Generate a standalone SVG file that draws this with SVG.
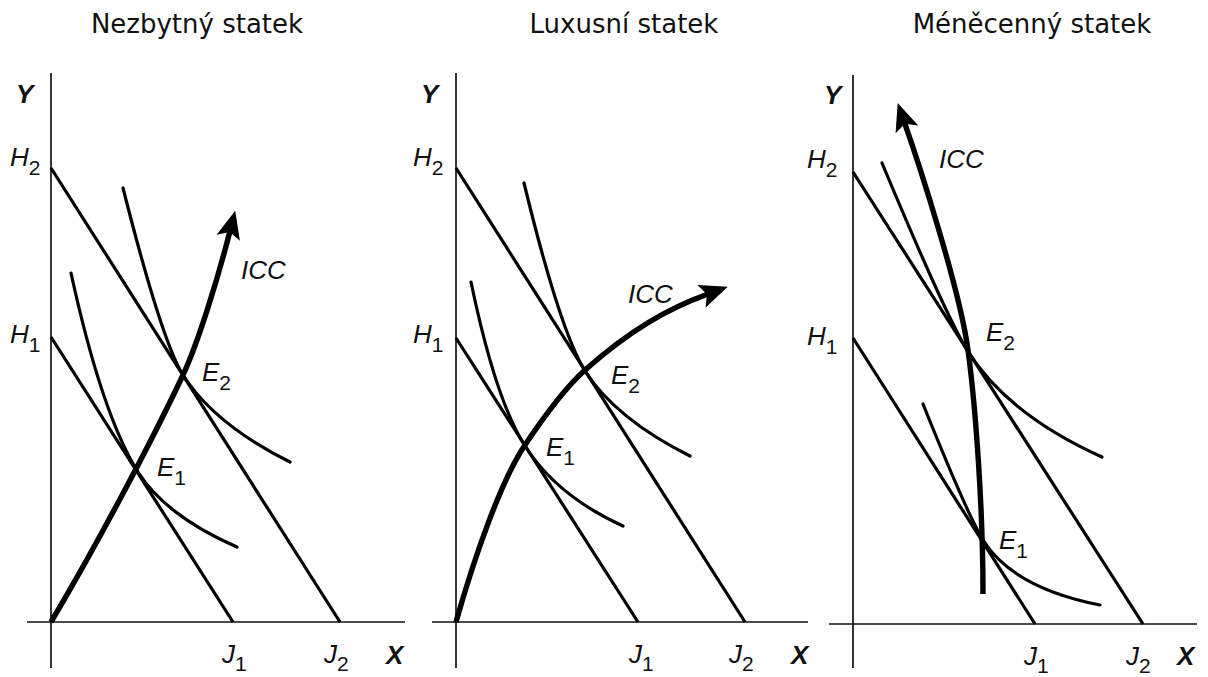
<svg xmlns="http://www.w3.org/2000/svg" width="1208" height="677" viewBox="0 0 1208 677">
<style>
.title{font-family:"DejaVu Sans",Verdana,sans-serif;font-size:26px;fill:#111;text-anchor:middle}
.lab{font-family:"Liberation Sans",Arial,sans-serif;font-size:26px;font-style:italic;fill:#111}
.ax{font-family:"Liberation Sans",Arial,sans-serif;font-size:26px;font-style:italic;font-weight:bold;fill:#111}
.sub{font-size:21px;font-style:normal}
.axis{stroke:#111;stroke-width:1.7;fill:none}
.bl{stroke:#000;stroke-width:3.2;fill:none}
.ic{stroke:#000;stroke-width:3.2;fill:none;stroke-linecap:round}
.icc{stroke:#000;stroke-width:5.4;fill:none;marker-end:url(#ah)}
</style>
<defs>
<marker id="ah" markerUnits="userSpaceOnUse" viewBox="-12 -16 40 32" markerWidth="40" markerHeight="32" refX="0" refY="0" orient="auto" overflow="visible">
<path d="M21,0 L-7,-12 L-1,0 L-7,12 Z" fill="#000"/>
</marker>
</defs>
<rect width="1208" height="677" fill="#fff"/>

<g id="titles">
<text class="title" x="197" y="33">Nezbytný statek</text>
<text class="title" x="624" y="33">Luxusní statek</text>
<text class="title" x="1032" y="33">Méněcenný statek</text>
</g>

<g id="panel-nezbytny">
<g id="axes1">
<line class="axis" x1="51" y1="73" x2="51" y2="668"/>
<line class="axis" x1="27" y1="622" x2="405" y2="622"/>
</g>
<g id="budget1">
<line class="bl" x1="51" y1="168" x2="340" y2="622"/>
<line class="bl" x1="51" y1="337" x2="233" y2="622"/>
</g>
<g id="indiff1">
<path class="ic" d="M71,273 Q102,415 138,472 Q166,516 237,547"/>
<path class="ic" d="M123,188 Q162,342 183,375 Q214,424 290,462"/>
</g>
<g id="connectors1">
<path class="icc" d="M51,622 C95,548 150,445 183,375 C198,343 218,278 230,231"/>
</g>
<g id="labels1">
<text class="ax" x="16" y="103">Y</text>
<text class="ax" x="386" y="664">X</text>
<text class="lab" x="10" y="166">H<tspan class="sub" dy="9">2</tspan></text>
<text class="lab" x="10" y="343">H<tspan class="sub" dy="9">1</tspan></text>
<text class="lab" x="202" y="381">E<tspan class="sub" dy="9">2</tspan></text>
<text class="lab" x="157" y="476">E<tspan class="sub" dy="9">1</tspan></text>
<text class="lab" x="241" y="279">ICC</text>
<text class="lab" x="222" y="663">J<tspan class="sub" dy="8">1</tspan></text>
<text class="lab" x="324" y="663">J<tspan class="sub" dy="8">2</tspan></text>
</g>
</g>

<g id="panel-luxusni">
<g id="axes2">
<line class="axis" x1="456" y1="73" x2="456" y2="668"/>
<line class="axis" x1="432" y1="622" x2="808" y2="622"/>
</g>
<g id="budget2">
<line class="bl" x1="456" y1="168" x2="745" y2="622"/>
<line class="bl" x1="456" y1="338" x2="638" y2="622"/>
</g>
<g id="indiff2">
<path class="ic" d="M471,282 Q495.5,400 525,446 Q557,496 623,526"/>
<path class="ic" d="M524,183 Q560,331 585,371 Q616,419 690,456"/>
</g>
<g id="connectors2">
<path class="icc" d="M456,622 C473,562 500,482 525,445 C545,415 565,388 585,370 C630,330 668,308.5 708,294"/>
</g>
<g id="labels2">
<text class="ax" x="421" y="103">Y</text>
<text class="ax" x="791" y="664">X</text>
<text class="lab" x="413" y="166">H<tspan class="sub" dy="9">2</tspan></text>
<text class="lab" x="413" y="343">H<tspan class="sub" dy="9">1</tspan></text>
<text class="lab" x="611" y="384">E<tspan class="sub" dy="9">2</tspan></text>
<text class="lab" x="546" y="456">E<tspan class="sub" dy="9">1</tspan></text>
<text class="lab" x="628" y="303">ICC</text>
<text class="lab" x="629" y="663">J<tspan class="sub" dy="8">1</tspan></text>
<text class="lab" x="729" y="663">J<tspan class="sub" dy="8">2</tspan></text>
</g>
</g>

<g id="panel-menecenny">
<g id="axes3">
<line class="axis" x1="853" y1="75" x2="853" y2="668"/>
<line class="axis" x1="829" y1="624" x2="1197" y2="624"/>
</g>
<g id="budget3">
<line class="bl" x1="853" y1="172" x2="1143" y2="624"/>
<line class="bl" x1="853" y1="338" x2="1035" y2="624"/>
</g>
<g id="indiff3">
<path class="ic" d="M923,404 Q968,516 983,540 Q1013,588 1100,605"/>
<path class="ic" d="M882,163 Q947,318.5 968,351.6 Q1008.5,415 1102,457"/>
</g>
<g id="connectors3">
<path class="icc" d="M983,594 C983,510 976,410 968,350 C960,290 918.6,162.8 904.6,122.8"/>
</g>
<g id="labels3">
<text class="ax" x="824" y="104">Y</text>
<text class="ax" x="1177" y="665">X</text>
<text class="lab" x="807" y="168">H<tspan class="sub" dy="9">2</tspan></text>
<text class="lab" x="807" y="345">H<tspan class="sub" dy="9">1</tspan></text>
<text class="lab" x="986" y="341">E<tspan class="sub" dy="9">2</tspan></text>
<text class="lab" x="999" y="549">E<tspan class="sub" dy="9">1</tspan></text>
<text class="lab" x="939" y="168">ICC</text>
<text class="lab" x="1024" y="665">J<tspan class="sub" dy="8">1</tspan></text>
<text class="lab" x="1126" y="665">J<tspan class="sub" dy="8">2</tspan></text>
</g>
</g>
</svg>
